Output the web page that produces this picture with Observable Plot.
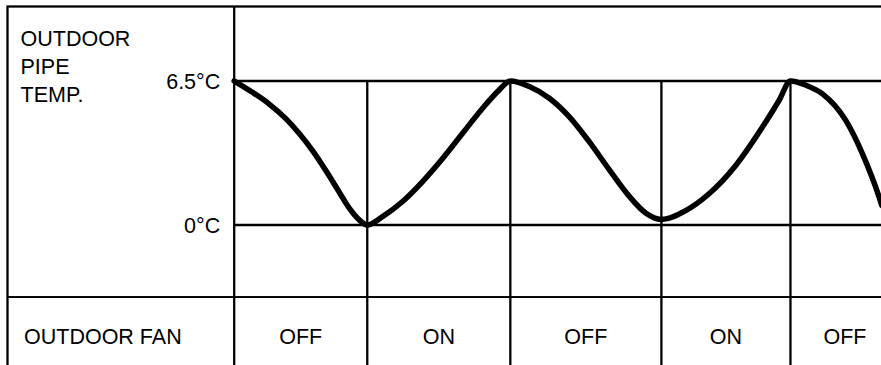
<!DOCTYPE html>
<html>
<head>
<meta charset="utf-8">
<script src="https://cdn.jsdelivr.net/npm/d3@7"></script>
<script src="https://cdn.jsdelivr.net/npm/@observablehq/plot@0.6"></script>
<style>
  body { margin: 0; background: #fff; }
  #chart svg { display: block; }
</style>
</head>
<body>
<div id="chart"></div>
<script>
// ---- data ----
const switchTimes = [0, 13.3, 27.6, 42.7, 55.6];      // fan switch instants (time units)
const fanStates = ["OFF", "ON", "OFF", "ON", "OFF"];   // state starting at each switch
const lastStateEnd = 66.5;                            // next switch, beyond the visible part
const viewEnd = 64.7;                                 // visible time span end
const tempTicks = [0, 6.5];                           // °C reference levels
const panelFloor = -20;                               // temperature far below the panel (rules run off it)
const curveTime = [0, 1.83, 3.5, 5.16, 6.5, 7.83, 9.16, 10.5, 11.5, 12.5, 13.3,
                   14.83, 16.83, 18.83, 20.83, 22.83, 24.83, 26.5, 27.6,
                   29.5, 31.5, 33.5, 35.5, 37.5, 39.5, 41.16, 42.7,
                   45.13, 47.46, 50.13, 52.8, 54.46, 55.6,
                   57.2, 58.8, 61.13, 62.8, 64.46, 64.73];
const curveTemp = [6.5, 5.99, 5.46, 4.8, 4.13, 3.36, 2.46, 1.48, 0.76, 0.23, 0,
                   0.38, 1.06, 1.96, 3.0, 4.14, 5.27, 6.1, 6.5,
                   6.25, 5.72, 4.88, 3.75, 2.49, 1.29, 0.53, 0.25,
                   0.65, 1.41, 2.69, 4.42, 5.62, 6.5,
                   6.3, 5.92, 4.72, 3.21, 1.26, 0.88];
const rowLabelTemp = "OUTDOOR\nPIPE\nTEMP.";
const rowLabelFan = "OUTDOOR FAN";

// ---- derived tables ----
const curve = curveTime.map((t, i) => ({t, temp: curveTemp[i]}));
const fanRows = fanStates.map((s, i) => ({
  state: s,
  start: switchTimes[i],
  end: i + 1 < switchTimes.length ? switchTimes[i + 1] : lastStateEnd
}));
const tMax = d3.max(tempTicks);

const FONT = "'Liberation Sans', Arial, Helvetica, sans-serif";
const FS = 21.5;
const LW = 2.3;
const xOpts = {domain: [0, viewEnd], range: [233.7, 881], axis: null};
const svgStyle = "overflow:hidden;background:#fff;color:#000;";

const topPanel = Plot.plot({
  width: 881, height: 298,
  marginLeft: 7, marginTop: 6, marginRight: -6, marginBottom: 1.3,
  style: svgStyle,
  x: xOpts,
  y: {domain: [0, 6.5], range: [224.5, 80.5], axis: null},
  marks: [
    Plot.frame({stroke: "#000", strokeWidth: LW}),
    Plot.ruleX([switchTimes[0]], {stroke: "#000", strokeWidth: LW}),
    Plot.ruleX(switchTimes.slice(1), {y1: () => tMax, y2: () => panelFloor, stroke: "#000", strokeWidth: LW}),
    Plot.ruleY(tempTicks, {x1: () => switchTimes[0], x2: () => lastStateEnd, stroke: "#000", strokeWidth: LW}),
    Plot.line(curve, {x: "t", y: "temp", curve: "monotone-x", stroke: "#000", strokeWidth: 5.5}),
    Plot.text(tempTicks, {
      x: () => switchTimes[0], y: d => d, text: d => `${d}°C`,
      textAnchor: "end", dx: -14, dy: 1, fontSize: FS, fontFamily: FONT, fill: "#000"
    }),
    Plot.text([rowLabelTemp], {
      frameAnchor: "top-left", lineAnchor: "top", textAnchor: "start",
      dx: 13, dy: 19, lineHeight: 1.32, fontSize: FS, fontFamily: FONT, fill: "#000"
    })
  ]
});

const bottomPanel = Plot.plot({
  width: 881, height: 67,
  marginLeft: 7, marginTop: -6, marginRight: -6, marginBottom: -6,
  style: svgStyle,
  x: xOpts,
  marks: [
    Plot.frame({stroke: "#000", strokeWidth: LW}),
    Plot.ruleX(switchTimes, {stroke: "#000", strokeWidth: LW}),
    Plot.text(fanRows, {
      x: d => (d.start + d.end) / 2, text: "state", frameAnchor: "middle",
      dy: 5, fontSize: FS, fontFamily: FONT, fill: "#000"
    }),
    Plot.text([rowLabelFan], {
      frameAnchor: "left", textAnchor: "start", dx: 16.5, dy: 5,
      fontSize: FS, fontFamily: FONT, fill: "#000"
    })
  ]
});

const chart = document.getElementById("chart");
chart.appendChild(topPanel);
chart.appendChild(bottomPanel);
</script>
</body>
</html>
